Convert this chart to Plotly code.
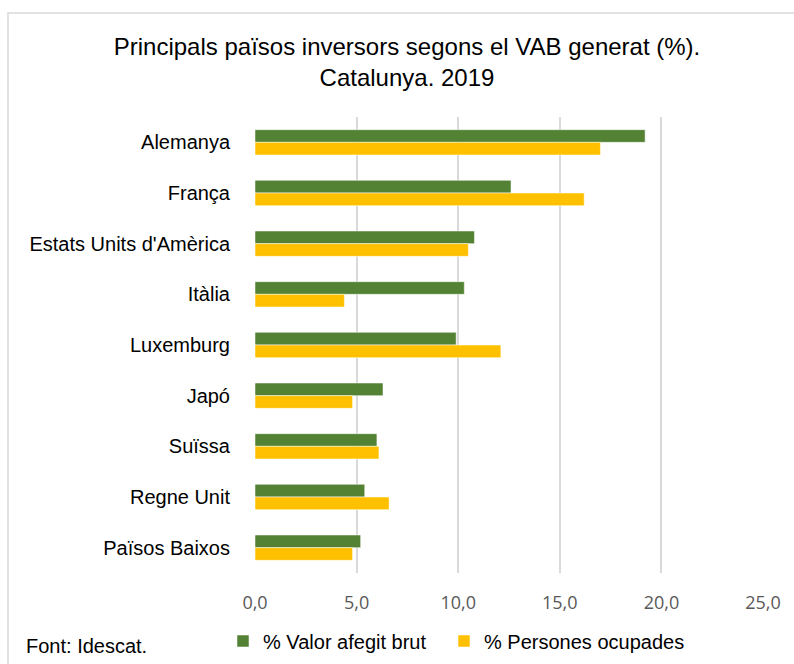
import plotly.graph_objects as go

countries = ["Alemanya", "França", "Estats Units d'Amèrica", "Itàlia", "Luxemburg",
             "Japó", "Suïssa", "Regne Unit", "Països Baixos"]
vab = [19.2, 12.6, 10.8, 10.3, 9.9, 6.3, 6.0, 5.4, 5.2]
ocupades = [17.0, 16.2, 10.5, 4.4, 12.1, 4.8, 6.1, 6.6, 4.8]
series_names = ["% Valor afegit brut", "% Persones ocupades"]
tick_vals = [0, 5, 10, 15, 20, 25]

W, H = 794, 664
L, R, T, B = 255, 31, 117, 91
pw, ph = W - L - R, H - T - B

def px(x):
    return (x - L) / pw

def py(y):
    return (H - B - y) / ph

fig = go.Figure()
fig.add_trace(go.Bar(y=countries, x=vab, orientation="h", name=series_names[0],
                     legend="legend",
                     marker=dict(color="#548235", line=dict(color="rgba(255,255,255,0.5)", width=1))))
fig.add_trace(go.Bar(y=countries, x=ocupades, orientation="h", name=series_names[1],
                     legend="legend2",
                     marker=dict(color="#FFC000", line=dict(color="rgba(255,255,255,0.5)", width=1))))

legend_common = dict(orientation="h", yanchor="middle", y=py(641), xanchor="left",
                     font=dict(size=20, color="#000000"), bgcolor="rgba(0,0,0,0)")

fig.update_layout(
    width=W, height=H,
    margin=dict(l=L, r=R, t=T, b=B, autoexpand=False),
    paper_bgcolor="white", plot_bgcolor="white",
    separators=", ",
    barmode="group", bargap=0.5, bargroupgap=0,
    font=dict(family="Liberation Sans, Arial, sans-serif", size=20, color="#000000"),
    title=dict(text="Principals països inversors segons el VAB generat (%).<br>Catalunya. 2019",
               font=dict(size=24, color="#000000"),
               xref="paper", x=px(407), xanchor="center",
               yref="container", y=(H - 55) / H, yanchor="middle"),
    xaxis=dict(range=[0, 25], tickvals=tick_vals, tickformat=".1f",
               showgrid=True, gridcolor="#d9d9d9", gridwidth=2,
               zeroline=False, showline=False,
               ticks="outside", ticklen=13, tickcolor="rgba(0,0,0,0)",
               tickfont=dict(family="Open Sans, sans-serif", size=18, color="#595959")),
    yaxis=dict(autorange="reversed", showgrid=False, zeroline=False, showline=False,
               ticks="outside", ticklen=20, tickcolor="rgba(0,0,0,0)",
               tickfont=dict(size=20, color="#000000")),
    legend=dict(legend_common, x=px(223)),
    legend2=dict(legend_common, x=px(444)),
    showlegend=True,
    shapes=[dict(type="rect", xref="paper", yref="paper",
                 x0=px(8), x1=px(800), y0=py(700), y1=py(13),
                 line=dict(color="#d9d9d9", width=1.5), fillcolor="rgba(0,0,0,0)",
                 layer="below")],
    annotations=[dict(text="Font: Idescat.", xref="paper", yref="paper",
                      x=px(24), y=py(646), xanchor="left", yanchor="middle",
                      showarrow=False, font=dict(size=20, color="#000000"))],
)

fig.write_html("out.html")
